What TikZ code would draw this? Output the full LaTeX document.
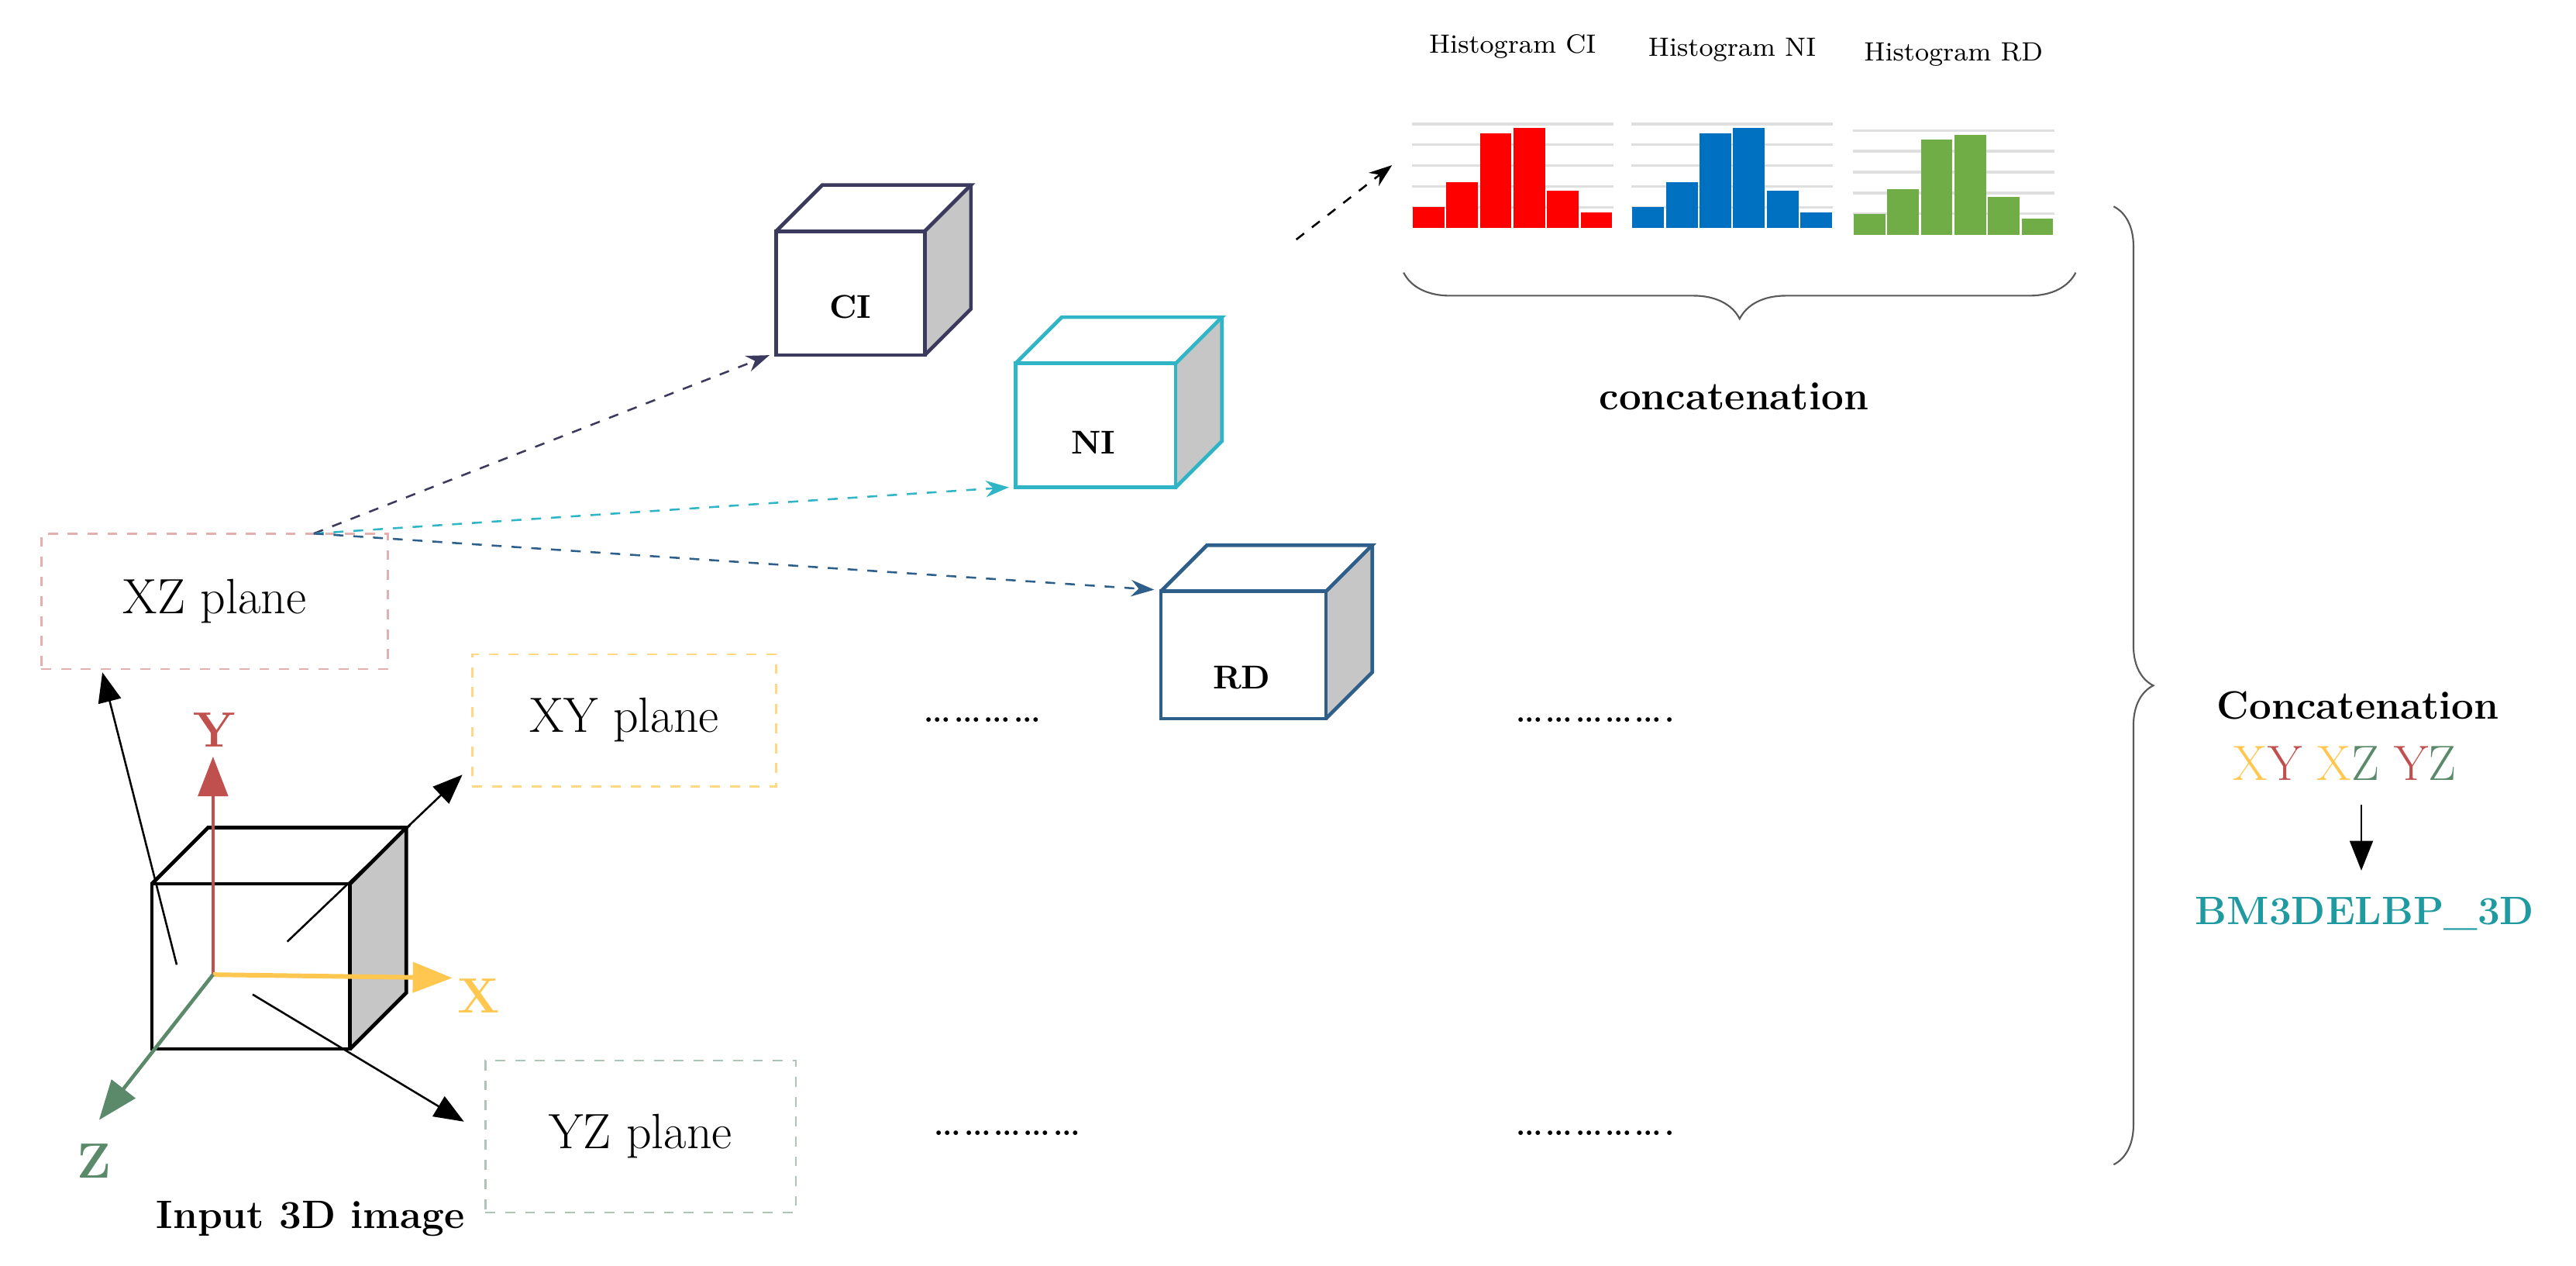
\documentclass[tikz,border=0pt]{standalone}
\usetikzlibrary{arrows.meta,decorations.pathreplacing}
\definecolor{cin}{HTML}{3B3A5E}
\definecolor{nic}{HTML}{2FB5C5}
\definecolor{rdc}{HTML}{2E5F8A}
\definecolor{yel}{HTML}{FFC74F}
\definecolor{redy}{HTML}{C0504D}
\definecolor{grz}{HTML}{5B8A6A}
\definecolor{teal2}{HTML}{1F9AA0}
\definecolor{hr}{HTML}{FF0000}
\definecolor{hb}{HTML}{0070C0}
\definecolor{hg}{HTML}{70AD47}
\begin{document}
\begin{tikzpicture}[x=0.5pt,y=-0.5pt,
  plane/.style={draw,dashed,line width=0.6pt,font=\fontsize{15}{18}\selectfont},
  lab/.style={font=\bfseries\fontsize{10}{12}\selectfont},
  darr/.style={dashed,line width=0.6pt,-{Stealth[length=7pt,width=5pt]}},
  barr/.style={line width=0.6pt,-{Triangle[length=9pt,width=7pt]}},
  axl/.style={font=\bfseries\fontsize{15}{18}\selectfont},
  htitle/.style={font=\fontsize{8}{9}\selectfont}]
\useasboundingbox (0,0) rectangle (1560,766);
% cube: anchored at front top-left; args width, height, depth, colour
\tikzset{pics/cube/.style n args={4}{code={
  \fill[gray!45] (#1,0) -- (#1+#3,-#3) -- (#1+#3,#2-#3) -- (#1,#2) -- cycle;
  \draw[#4,line width=1.1pt] (0,0) rectangle (#1,#2);
  \draw[#4,line width=1.1pt] (0,0) -- (#3,-#3) -- (#1+#3,-#3) -- (#1,0);
  \draw[#4,line width=1.1pt] (#1+#3,-#3) -- (#1+#3,#2-#3) -- (#1,#2);
}}}
% input cube
\pic at (92,535) {cube={120}{100}{34}{black}};
\draw[redy,line width=1pt,-{Triangle[length=12pt,width=9pt]}] (129,590) -- (129,458);
\node[axl,text=redy] at (130,442) {Y};
\draw[yel,line width=1.4pt,-{Triangle[length=12pt,width=9pt]}] (129,590) -- (274,592);
\node[axl,text=yel] at (290,603) {X};
\draw[grz,line width=1.1pt,-{Triangle[length=12pt,width=9pt]}] (129,590) -- (60,678);
\node[axl,text=grz] at (57,703) {Z};
\node[font=\bfseries\fontsize{12}{14}\selectfont] (inp) at (188,738) {Input 3D image};
% planes
\node[plane,draw=redy!45,minimum width=105pt,minimum height=41pt] (xz) at (130,364) {XZ plane};
\node[plane,draw=yel!70,minimum width=92pt,minimum height=40pt] (xy) at (378,436) {XY plane};
\node[plane,draw=grz!50,minimum width=94pt,minimum height=46pt] (yz) at (388,688) {YZ plane};
\coordinate (a1s) at (107,584); \coordinate (a1e) at (62,407);
\coordinate (a2s) at (174,570); \coordinate (a2e) at (280,469);
\coordinate (a3s) at (153,602); \coordinate (a3e) at (281,679);
\draw[barr] (a1s) -- (a1e);
\draw[barr] (a2s) -- (a2e);
\draw[barr] (a3s) -- (a3e);
% small cubes
\pic at (470,140) {cube={90}{75}{28}{cin}};
\node[lab] (ci) at (515,186) {CI};
\pic at (615,220) {cube={97}{75}{28}{nic}};
\node[lab] (ni) at (662,268) {NI};
\pic at (703,358) {cube={100}{77}{28}{rdc}};
\node[lab] (rd) at (752,410) {RD};
\coordinate (src) at (190,323);
\coordinate (cie) at (466,215); \coordinate (nie) at (611,295); \coordinate (rde) at (699,357);
\draw[darr,cin] (src) -- (cie);
\draw[darr,nic] (src) -- (nie);
\draw[darr,rdc] (src) -- (rde);
% dots
\node[font=\fontsize{14}{16}\selectfont] (d1) at (595,436) {\ldots\ldots\ldots\ldots};
\node[font=\fontsize{14}{16}\selectfont] (d2) at (966,436) {\ldots\ldots\ldots\ldots\ldots.};
\node[font=\fontsize{14}{16}\selectfont] (d3) at (610,686) {\ldots\ldots\ldots\ldots\ldots};
\node[font=\fontsize{14}{16}\selectfont] (d4) at (966,686) {\ldots\ldots\ldots\ldots\ldots.};
% histogram arrow
\coordinate (ha1) at (785,145); \coordinate (ha2) at (843,100);
\draw[darr,black] (ha1) -- (ha2);
% histograms
\foreach \x/\b/\c/\t/\ty in {855/138/hr/CI/28,988/138/hb/NI/30,1122/142/hg/RD/33}{
  \foreach \g in {1,0.8,0.6,0.4,0.2}{\draw[gray!25,line width=0.8pt] (\x,\b-63*\g) -- (\x+122,\b-63*\g);}
  \foreach \h [count=\i from 0] in {0.2,0.44,0.91,0.96,0.36,0.15}{
    \fill[\c] (\x+\i*20.33+0.6,\b) rectangle (\x+\i*20.33+20.33-0.6,\b-63*\h);}
  \node[htitle] at (\x+61,\ty) {Histogram \t};
}
\draw[decorate,decoration={brace,mirror,amplitude=14pt},line width=0.5pt,gray!70!black] (850,165) -- (1257,165);
\node[font=\bfseries\fontsize{12}{14}\selectfont] (cc) at (1050,240) {concatenation};
\draw[decorate,decoration={brace,amplitude=12pt},line width=0.5pt,gray!70!black] (1280,125) -- (1280,705);
\node[font=\bfseries\fontsize{12}{14}\selectfont] (CC) at (1428,427) {Concatenation};
\node[font=\fontsize{15}{18}\selectfont] (xyz) at (1420,462) {\textcolor{yel}{X}\textcolor{redy}{Y} \textcolor{yel}{X}\textcolor{grz}{Z} \textcolor{redy}{Y}\textcolor{grz}{Z}};
\node[font=\bfseries\fontsize{12}{14}\selectfont,text=teal2] (bm) at (1432,553) {BM3DELBP\_3D};
\draw[barr] (xyz.south -| 1430,0) ++(0,8) -- (1430,527);
\end{tikzpicture}
\end{document}
